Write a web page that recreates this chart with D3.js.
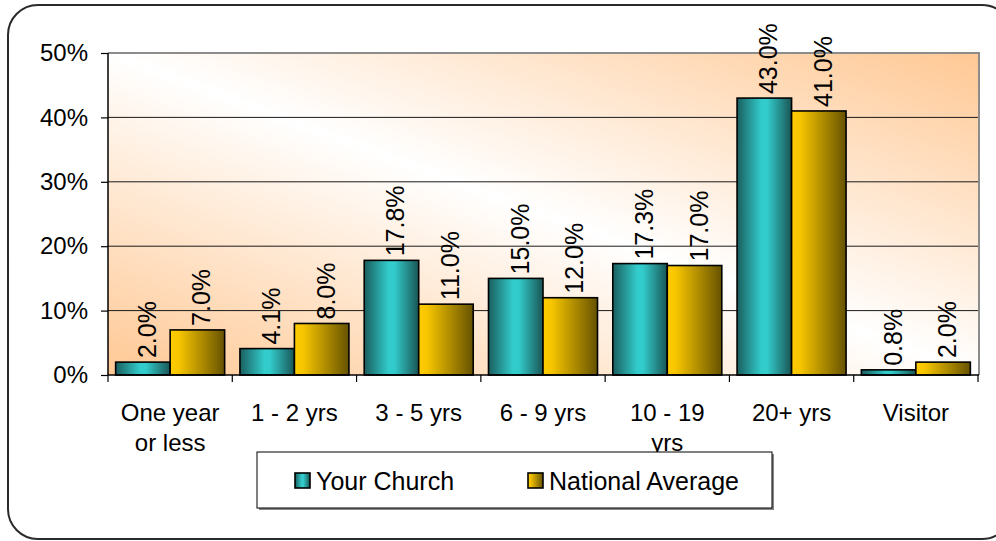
<!DOCTYPE html>
<html>
<head>
<meta charset="utf-8">
<script src="https://cdn.jsdelivr.net/npm/d3@7/dist/d3.min.js"></script>
<style>
  html, body { margin: 0; padding: 0; background: #fff; }
  svg { display: block; font-family: "Liberation Sans", Arial, sans-serif; }
</style>
</head>
<body>
<svg id="chart" width="996" height="541"></svg>
<script>
const categories = ["One year or less", "1 - 2 yrs", "3 - 5 yrs", "6 - 9 yrs", "10 - 19 yrs", "20+ yrs", "Visitor"];
const tickLabels = [["One year", "or less"], ["1 - 2 yrs"], ["3 - 5 yrs"], ["6 - 9 yrs"], ["10 - 19", "yrs"], ["20+ yrs"], ["Visitor"]];
const seriesNames = ["Your Church", "National Average"];
const yourChurch = [0.020, 0.041, 0.178, 0.150, 0.173, 0.430, 0.008];
const nationalAverage = [0.070, 0.080, 0.110, 0.120, 0.170, 0.410, 0.020];
const yTicks = [0, 0.1, 0.2, 0.3, 0.4, 0.5];

(function () {
const svg = d3.select("#chart");
const pL = 108, pR = 979, pT = 53, pB = 375;

const defs = svg.append("defs");
const bg = defs.append("linearGradient").attr("id", "bgGrad")
  .attr("x1", "0").attr("y1", "1").attr("x2", "1").attr("y2", "0");
bg.append("stop").attr("offset", "0%").attr("stop-color", "#ffc894");
bg.append("stop").attr("offset", "50%").attr("stop-color", "#ffffff");
bg.append("stop").attr("offset", "100%").attr("stop-color", "#ffc894");

const tg = defs.append("linearGradient").attr("id", "tealGrad")
  .attr("x1", "0").attr("y1", "0").attr("x2", "1").attr("y2", "0");
tg.append("stop").attr("offset", "0%").attr("stop-color", "#1a5e5e");
tg.append("stop").attr("offset", "45%").attr("stop-color", "#33cccc");
tg.append("stop").attr("offset", "55%").attr("stop-color", "#33cccc");
tg.append("stop").attr("offset", "100%").attr("stop-color", "#1a5555");

const gg = defs.append("linearGradient").attr("id", "goldGrad")
  .attr("x1", "0").attr("y1", "0").attr("x2", "1").attr("y2", "0");
gg.append("stop").attr("offset", "0%").attr("stop-color", "#ffcc00");
gg.append("stop").attr("offset", "15%").attr("stop-color", "#f8c600");
gg.append("stop").attr("offset", "100%").attr("stop-color", "#665200");

const fills = ["url(#tealGrad)", "url(#goldGrad)"];

// outer rounded frame
svg.append("rect").attr("x", 8).attr("y", 5).attr("width", 1004).attr("height", 534)
  .attr("rx", 30).attr("ry", 30).attr("fill", "#fff").attr("stroke", "#2a2a2a").attr("stroke-width", 2);

const x = d3.scaleBand().domain(categories).range([pL, pR - 1])
  .paddingInner(0.123).paddingOuter(0.0615);
const xCat = d3.scaleBand().domain(categories).range([pL, pR - 1]).padding(0);
const xSub = d3.scaleBand().domain(seriesNames).range([0, x.bandwidth()]);
const y = d3.scaleLinear().domain([0, 0.5]).range([pB, pT]);

// plot area
svg.append("rect").attr("x", pL).attr("y", pT).attr("width", pR - pL).attr("height", pB - pT)
  .attr("fill", "url(#bgGrad)");

// gridlines
svg.append("g").selectAll("line").data(yTicks.filter(d => d > 0 && d < 0.5)).join("line")
  .attr("x1", pL).attr("x2", pR).attr("y1", d => y(d)).attr("y2", d => y(d))
  .attr("stroke", "#1a1a1a").attr("stroke-width", 1);
// plot border top/right
svg.append("path")
  .attr("d", `M${pL},${y(0.5)}H${pR}V${pB}`)
  .attr("fill", "none").attr("stroke", "#8c8c8c").attr("stroke-width", 2);

// bars
const data = categories.map((c, i) => ({ c, vals: [yourChurch[i], nationalAverage[i]] }));
const groups = svg.append("g").selectAll("g").data(data).join("g")
  .attr("transform", d => `translate(${x(d.c)},0)`);
groups.selectAll("rect").data(d => d.vals.map((v, j) => ({ v, s: seriesNames[j], j }))).join("rect")
  .attr("x", d => xSub(d.s)).attr("width", xSub.bandwidth())
  .attr("y", d => y(d.v)).attr("height", d => y(0) - y(d.v))
  .attr("fill", d => fills[d.j]).attr("stroke", "#000").attr("stroke-width", 1.6);

// value labels
groups.selectAll("text").data(d => d.vals.map((v, j) => ({ v, s: seriesNames[j], j }))).join("text")
  .attr("transform", d => `translate(${xSub(d.s) + xSub.bandwidth() / 2 + 4},${y(d.v) - 4}) rotate(-90)`)
  .attr("dy", "0.36em")
  .attr("font-size", 25).attr("fill", "#000")
  .text(d => d3.format(".1%")(d.v));

// y axis
const yAxis = svg.append("g").attr("transform", `translate(${pL},0)`)
  .call(d3.axisLeft(y).tickValues(yTicks).tickFormat(d3.format(".0%")).tickSize(7).tickPadding(13));
yAxis.select(".domain").attr("stroke", "#000").attr("stroke-width", 1.5).attr("d", `M0,${pT}V${pB}`);
yAxis.selectAll(".tick line").attr("stroke", "#000").attr("stroke-width", 1.2);
yAxis.selectAll(".tick text").attr("font-size", 24).attr("fill", "#000").attr("font-family", "Liberation Sans, Arial, sans-serif");

// x axis
svg.append("line").attr("x1", pL).attr("x2", pR).attr("y1", pB).attr("y2", pB)
  .attr("stroke", "#000").attr("stroke-width", 1.5);
const bounds = categories.map(c => xCat(c)).concat([xCat(categories[categories.length - 1]) + xCat.bandwidth()]);
svg.append("g").selectAll("line").data(bounds).join("line")
  .attr("x1", d => d).attr("x2", d => d).attr("y1", pB).attr("y2", pB + 7)
  .attr("stroke", "#000").attr("stroke-width", 1.2);
const xl = svg.append("g").selectAll("text").data(categories).join("text")
  .attr("x", d => xCat(d) + xCat.bandwidth() / 2).attr("y", 421)
  .attr("text-anchor", "middle").attr("font-size", 24).attr("fill", "#000");
xl.each(function(d, i) {
  const t = d3.select(this);
  tickLabels[i].forEach((ln, k) => {
    t.append("tspan").attr("x", xCat(d) + xCat.bandwidth() / 2).attr("y", 421 + k * 30).text(ln);
  });
});

// legend
const lg = svg.append("g");
lg.append("rect").attr("x", 259).attr("y", 454).attr("width", 515).attr("height", 56).attr("fill", "#888");
lg.append("rect").attr("x", 257).attr("y", 452).attr("width", 515).attr("height", 56)
  .attr("fill", "#fff").attr("stroke", "#000").attr("stroke-width", 1);
const legendX = [295, 528];
seriesNames.forEach((s, j) => {
  lg.append("rect").attr("x", legendX[j]).attr("y", 473).attr("width", 15).attr("height", 15)
    .attr("fill", fills[j]).attr("stroke", "#000").attr("stroke-width", 1.6);
  lg.append("text").attr("x", legendX[j] + 21).attr("y", 490).attr("font-size", 25).attr("fill", "#000").text(s);
});
})();
</script>
</body>
</html>
